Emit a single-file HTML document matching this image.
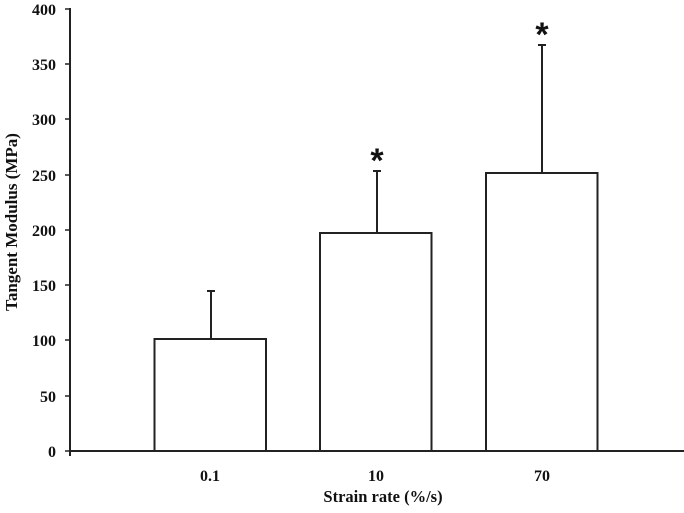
<!DOCTYPE html>
<html><head><style>body{margin:0;background:#fff}</style></head><body>
<svg width="684" height="508" xmlns="http://www.w3.org/2000/svg" font-family="Liberation Serif, serif" font-weight="bold">
<rect width="684" height="508" fill="#fff"/>
<g stroke="#222" stroke-width="2" fill="none">
<line x1="70" y1="8" x2="70" y2="456"/>
<line x1="69" y1="451" x2="684" y2="451"/>
<g stroke-width="1.5">
<line x1="65" y1="9" x2="70" y2="9"/><line x1="65" y1="64" x2="70" y2="64"/><line x1="65" y1="119" x2="70" y2="119"/><line x1="65" y1="175" x2="70" y2="175"/><line x1="65" y1="230" x2="70" y2="230"/><line x1="65" y1="285" x2="70" y2="285"/><line x1="65" y1="340" x2="70" y2="340"/><line x1="65" y1="396" x2="70" y2="396"/><line x1="65" y1="451" x2="70" y2="451"/>
</g>
<line x1="211" y1="339" x2="211" y2="291"/><line x1="207" y1="291" x2="215" y2="291"/>
<line x1="377" y1="233" x2="377" y2="171"/><line x1="373" y1="171" x2="381" y2="171"/>
<line x1="542" y1="173" x2="542" y2="45"/><line x1="538" y1="45" x2="546" y2="45"/>
<rect x="154.5" y="339" width="111.5" height="112" fill="#fff"/>
<rect x="320" y="233" width="111.5" height="218" fill="#fff"/>
<rect x="486" y="173" width="111.5" height="278" fill="#fff"/>
</g>
<g font-size="16" text-anchor="end" fill="#111">
<text x="56" y="15">400</text><text x="56" y="70">350</text><text x="56" y="125">300</text><text x="56" y="181">250</text><text x="56" y="236">200</text><text x="56" y="291">150</text><text x="56" y="346">100</text><text x="56" y="402">50</text><text x="56" y="457">0</text>
</g>
<g font-size="16" text-anchor="middle" fill="#111">
<text x="210" y="481">0.1</text><text x="376" y="481">10</text><text x="542" y="481">70</text>
<text x="383" y="502" font-size="16.5">Strain rate (%/s)</text>
<text transform="translate(17,222) rotate(-90)" font-size="17">Tangent Modulus (MPa)</text>
</g>
<g font-size="34" text-anchor="middle" fill="#111" font-family="Liberation Sans, sans-serif" font-weight="bold">
<text x="377" y="172">*</text><text x="542" y="46">*</text>
</g>
</svg>
</body></html>
